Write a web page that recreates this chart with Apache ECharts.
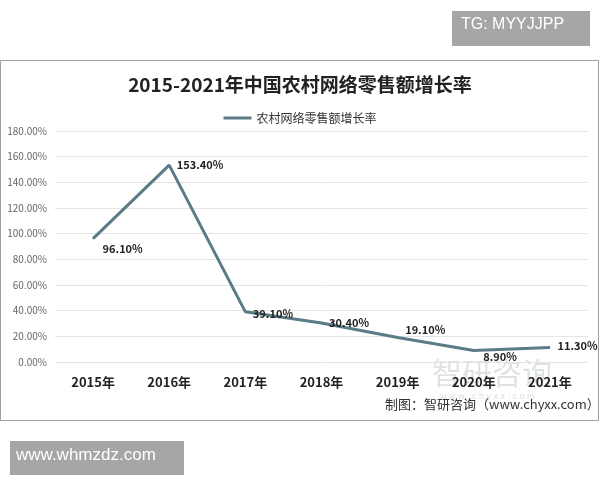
<!DOCTYPE html>
<html>
<head>
<meta charset="utf-8">
<script src="https://cdn.jsdelivr.net/npm/echarts@6/dist/echarts.min.js"></script>
<style>
  html, body { margin: 0; padding: 0; background: #fff; }
  #chart { width: 600px; height: 480px; }
</style>
</head>
<body>
<div id="chart"></div>
<script>
var categories = ['2015年', '2016年', '2017年', '2018年', '2019年', '2020年', '2021年'];
var growthRate = [96.1, 153.4, 39.1, 30.4, 19.1, 8.9, 11.3];
var labelOffsets = [[4, 10], [2, 0], [2, 2], [2, 0], [2, -8], [4, 6], [2, -2]];

var myChart = echarts.init(document.getElementById('chart'));

var font = '"Noto Sans CJK SC", sans-serif';

var option = {
  backgroundColor: '#fff',
  textStyle: { fontFamily: font },
  graphic: [
    { type: 'rect', shape: { x: 0.5, y: 60.5, width: 598, height: 360 },
      style: { fill: 'none', stroke: '#a0a0a0', lineWidth: 1 } },
    { type: 'rect', shape: { x: 452, y: 11, width: 138, height: 35 },
      style: { fill: '#a6a6a6' } },
    { type: 'text', left: 461, top: 17,
      style: { text: 'TG: MYYJJPP', fill: '#fff', font: '16px "Liberation Sans", sans-serif' } },
    { type: 'rect', shape: { x: 10, y: 441, width: 174, height: 34 },
      style: { fill: '#a6a6a6' } },
    { type: 'text', left: 16, top: 447,
      style: { text: 'www.whmzdz.com', fill: '#fff', font: '17px "Liberation Sans", sans-serif' } },
    { type: 'text', left: 385, top: 398,
      style: { text: '制图：智研咨询（www.chyxx.com）', fill: '#333', font: '13px "Noto Sans CJK SC", sans-serif' } },
    { type: 'text', left: 432, top: 358, z: 0,
      style: { text: '智研咨询', fill: 'rgba(150,160,170,0.3)', font: '30px "Noto Sans CJK SC", sans-serif' } },
    { type: 'text', left: 440, top: 392, z: 0,
      style: { text: 'w w w . c h y x x . c o m', fill: 'rgba(150,160,170,0.35)', font: '9px sans-serif' } }
  ],
  title: {
    text: '2015-2021年中国农村网络零售额增长率',
    left: 'center',
    top: 70,
    textStyle: { fontSize: 19, fontWeight: 'bold', color: '#222', fontFamily: font }
  },
  legend: {
    top: 107,
    left: 'center',
    data: ['农村网络零售额增长率'],
    icon: 'rect',
    itemWidth: 28,
    itemHeight: 3,
    textStyle: { fontSize: 12, color: '#333' }
  },
  grid: { left: 55, right: 12, top: 131, bottom: 118 },
  xAxis: {
    type: 'category',
    data: categories,
    axisLine: { show: false },
    axisTick: { show: false },
    axisLabel: { fontSize: 13, fontWeight: 'bold', color: '#222', margin: 14 }
  },
  yAxis: {
    type: 'value',
    min: 0,
    max: 180,
    interval: 20,
    axisLabel: {
      fontSize: 10, color: '#666', margin: 8,
      formatter: function (v) { return v.toFixed(2) + '%'; }
    },
    splitLine: { lineStyle: { color: '#e4e4e4' } }
  },
  series: [
    {
      name: '农村网络零售额增长率',
      type: 'line',
      data: growthRate.map(function (v, i) {
        return { value: v, label: { offset: labelOffsets[i] } };
      }),
      symbol: 'circle',
      symbolSize: 1,
      lineStyle: { color: '#5b7b86', width: 3 },
      itemStyle: { color: '#5b7b86' },
      label: {
        show: true,
        position: 'right',
        fontSize: 11,
        fontWeight: 'bold',
        color: '#222',
        formatter: function (p) { return p.value.toFixed(2) + '%'; }
      }
    }
  ]
};

myChart.setOption(option);
</script>
</body>
</html>
